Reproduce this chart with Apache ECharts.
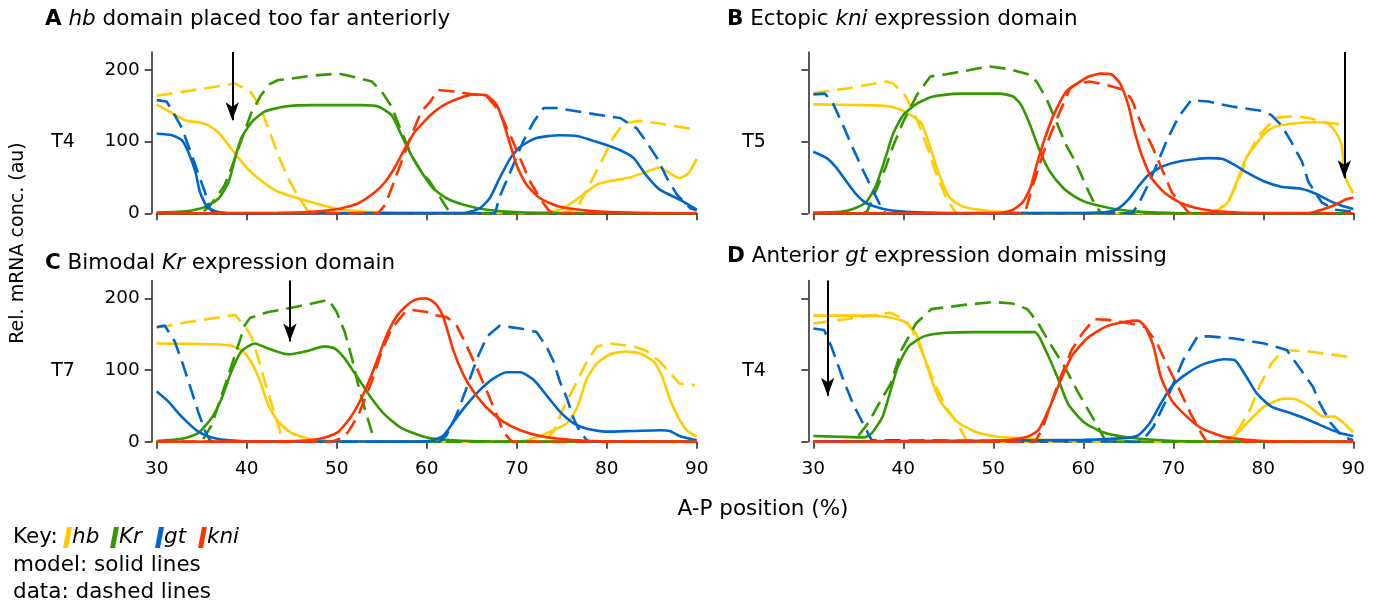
<!DOCTYPE html>
<html>
<head>
<meta charset="utf-8">
<script src="https://cdn.jsdelivr.net/npm/echarts@6/dist/echarts.min.js"></script>
<style>
  html, body { margin: 0; padding: 0; background: #fff; }
  #chart { width: 1381px; height: 603px; }
</style>
</head>
<body>
<div id="chart"></div>
<script>
  // axis ticks
  const xTicks = [30, 40, 50, 60, 70, 80, 90]
  const yTicks = [0, 100, 200]
  const genes = ['hb', 'Kr', 'gt', 'kni']
  const geneColors = ['#ffcc00', '#339900', '#0066cc', '#ff3300']

  // panel A - hb domain placed too far anteriorly (T4)
  const aHbModel = [[30,152],[31.7,140],[33.1,130],[34.6,127],[35.7,123],[36.9,112],[38,95],[39.1,77],[40.6,56],[42,42],[43.5,30],[45.7,21],[48,12.6],[50.2,6],[53.1,2.3],[56.5,1],[60,0.5],[73,0.5],[74.8,5],[76.3,16],[77.8,30],[78.9,40],[80.4,45],[82.6,50],[84.4,58],[85.9,64],[87,56],[88.1,49],[89.1,56],[90,76]]
  const aHbData = [[30,164],[38.7,181],[40.4,170],[41.5,149],[42.6,112],[43.5,81],[44.6,49],[45.6,26],[46.7,5],[47.5,0],[75,0],[76.7,7],[78.1,40],[79.6,77],[80.7,105],[81.9,126],[83.7,129],[85.6,126],[87.8,121],[90,117]]
  const aKrModel = [[30,1],[33.5,3],[35.4,9],[36.9,21],[38,44],[38.7,77],[39.4,105],[40.6,128],[42,142],[44.3,149],[47.2,151],[52.8,151],[54.6,149],[56.1,137],[57.2,109],[58.3,81],[59.4,58],[60.7,35],[62.2,21],[64.1,12],[66.7,5],[70.4,1.5],[75,0.5],[90,0]]
  const aKrData = [[30,0],[35,0],[36,12],[37.5,38],[38.5,70],[39.5,105],[40.5,140],[41.5,163],[42.5,180],[43.5,186],[45,188],[47.2,192],[50.2,195],[51.7,191],[53.9,184],[55,170],[56.1,149],[57.2,114],[58.3,81],[59.4,58],[60.3,45],[61.1,30],[61.9,14],[62.6,0],[90,0]]
  const aGtModel = [[30,111],[31.7,109],[32.8,102],[33.5,86],[34.3,58],[34.8,30],[35.6,9],[36.7,2],[38,0.3],[64,0.3],[64.8,2],[65.9,7],[67,21],[68.1,49],[69.3,77],[70.4,93],[72.2,105],[74.8,109],[76.7,108],[79.3,98],[81.5,88],[83,77],[84.4,53],[85.9,33],[88.1,19],[90,5]]
  const aGtData = [[30,158],[31.1,156],[32,137],[32.8,119],[33.9,81],[34.8,49],[35.4,28],[35.9,7],[36.3,0],[67.6,0],[68.1,23],[69.3,58],[70.7,100],[71.9,128],[73,147],[74.4,147],[77.8,140],[81.5,133],[83.3,119],[84.4,100],[85.6,77],[86.7,49],[87.8,26],[89.3,7],[90,4]]
  const aKniModel = [[30,0],[43.5,0.5],[47.2,2],[50.2,6],[52.4,14],[54.3,30],[55.4,44],[56.5,65],[57.6,91],[58.7,114],[59.5,125],[60.4,137],[61.9,151],[63.7,161],[65.2,166],[66.7,164],[67.8,151],[68.5,128],[69.3,95],[70,67],[71.1,40],[72.6,21],[74.8,9],[77.8,4],[81.5,1.4],[85,0.3],[90,0]]
  const aKniData = [[30,0],[54.6,0],[55.4,12],[56.1,35],[57.2,72],[58.3,109],[59.4,142],[60.4,156],[61.3,172],[63,170],[65.6,165],[66.7,163],[68.1,142],[68.9,119],[69.6,100],[70.7,67],[71.5,44],[72.6,21],[73.5,5],[74,0],[90,0]]

  // panel B - ectopic kni expression domain (T5)
  const bHbModel = [[30,152],[35.9,151],[38.5,149],[40,143],[41.1,135],[42,126],[42.8,100],[43.5,72],[44.3,44],[45.2,21],[46.7,9],[48.5,5],[50.7,2],[55,0.3],[74,0.3],[75,5],[76.1,16],[77.2,49],[78.1,77],[79.1,95],[80.2,112],[81.3,121],[83.1,125],[85.7,127],[87.2,125],[88,114],[88.7,95],[89.1,51],[90,28]]
  const bHbData = [[30,168],[34.1,175],[38.1,184],[38.9,181],[40.2,165],[41.1,142],[41.9,119],[43,81],[43.7,53],[44.8,21],[45.6,5],[46,0],[74,0],[75,5],[76.1,16],[77.2,44],[78.3,81],[79.4,107],[80.6,123],[81.3,133],[83.5,136],[85,133],[86.9,127],[88.6,124]]
  const bKrModel = [[30,1],[33,2],[34.4,6],[35.9,16],[37,40],[38,77],[38.9,112],[40,137],[41.5,153],[43.3,163],[46.3,167],[50.7,167],[52.2,163],[53.1,151],[54.1,123],[55.2,86],[56.3,58],[57.8,35],[59.1,23],[60.2,16],[61.3,12],[63.5,6],[66.5,2],[70,0.5],[90,0]]
  const bKrData = [[30,0],[35.5,0],[36,3],[37,33],[38,63],[38.9,95],[40,128],[41.5,165],[43,191],[44.8,194],[47.8,201],[49.6,205],[51.9,201],[54.1,193],[54.8,184],[55.9,160],[57,128],[58.1,95],[59.2,70],[60.6,30],[61.3,12],[62,0],[90,0]]
  const bGtModel = [[30,86],[31.5,77],[32.6,63],[33.7,44],[34.8,26],[35.9,14],[37.8,6],[40.4,2],[45,0.5],[60,0.5],[62.8,2],[63.9,7],[65,19],[66.1,37],[67.2,53],[68.7,65],[70.9,73],[73.9,77],[75.4,76],[76.9,67],[78.3,56],[80.2,44],[82,37],[84.3,34],[85.7,28],[87.6,16],[89.1,9],[90,6]]
  const bGtData = [[30,166],[31.3,167],[32.2,153],[33.3,123],[34.4,91],[35.6,58],[36.7,30],[37.6,7],[38,0],[65.4,0],[66.1,12],[67.2,40],[68.3,72],[69.4,105],[70.6,135],[72,158],[73.9,156],[76.5,149],[79.8,143],[80.9,137],[82,123],[83.1,100],[84.3,72],[85,44],[86.5,15],[88,5],[90,2]]
  const bKniModel = [[30,0],[50.7,0.3],[52.2,5],[53.3,16],[54.1,35],[54.8,67],[55.6,100],[56.7,137],[58.1,170],[59.3,181],[60.6,191],[62,195],[63.1,194],[64.1,181],[65,151],[65.7,114],[66.5,81],[67.6,49],[69.1,28],[70.9,14],[73.1,6],[75.7,2],[80,0.3],[85,0.3],[86.5,5],[88,12],[89.1,19],[90,22]]
  const bKniData = [[30,0],[53.5,0],[54.3,35],[55.6,86],[57,130],[58.5,174],[59.3,181],[60.7,184],[62.6,179],[64.6,172],[65.4,158],[66.5,123],[67.6,95],[68.7,63],[69.8,30],[71.3,7],[71.8,0],[90,0]]

  // panel C - bimodal Kr expression domain (T7)
  const cHbModel = [[30,137],[36.1,136],[38.3,134],[39.6,126],[40.6,109],[41.5,84],[42.4,51],[43.5,28],[45,12],[46.9,4],[49.1,1],[55,0.3],[69.6,0.3],[71.1,2],[72.6,8],[74.1,16],[75.6,26],[76.7,47],[77.8,88],[78.9,109],[80.4,122],[82.2,126],[83.7,123],[85.2,112],[86.1,93],[87,60],[88,33],[88.9,16],[90,7]]
  const cHbData = [[30,159],[33.5,167],[38.7,177],[40,158],[40.6,144],[41.3,116],[42,84],[42.8,51],[43.5,23],[43.9,5],[44.2,0],[73,0],[74.1,14],[75.2,47],[76.3,74],[77.8,112],[78.9,133],[80.4,137],[83,133],[84.4,127],[85.9,112],[86.9,98],[88.1,81],[89.8,79]]
  const cKrModel = [[30,1],[32.8,4],[34.6,12],[36.1,33],[37.2,60],[38.3,98],[39.4,126],[40.9,137],[42.4,130],[44.6,122],[46.5,126],[48.7,133],[49.8,130],[50.9,116],[52.4,88],[53.9,60],[55.4,37],[57.2,19],[60,6],[63,2],[67,0.5],[90,0]]
  const cKrData = [[30,0],[35,0],[36.1,23],[37.6,79],[38.7,121],[39.8,163],[40.4,173],[42.4,181],[45.4,188],[49.1,198],[50,181],[50.9,153],[51.7,116],[52.4,79],[53.1,47],[54.1,5],[54.3,0],[90,0]]
  const cGtModel = [[30,70],[31.3,56],[32.4,40],[33.5,26],[34.6,14],[36.1,6],[38,2],[42,0.3],[59,0.3],[60.7,2],[61.9,9],[63,28],[64.4,51],[65.9,72],[67.4,88],[68.9,97],[70.4,97],[71.9,86],[73.3,65],[74.8,42],[76.3,26],[77.8,18],[80,14],[83,15],[85.9,16],[87,15],[88.1,8],[90,2]]
  const cGtData = [[30,160],[30.9,162],[32,140],[32.8,112],[33.9,70],[34.6,42],[35.4,14],[35.9,2],[36.2,0],[61.5,0],[62.2,9],[63.3,37],[64.4,74],[65.6,116],[66.7,147],[68.1,162],[70.4,158],[72.2,153],[73.3,133],[74.1,112],[74.8,84],[75.6,60],[76.3,33],[77,14],[77.8,2],[78.2,0],[90,0]]
  const cKniModel = [[30,0],[43.5,0.3],[46.5,1.5],[48.7,6],[50.2,14],[51.7,37],[53.1,70],[54.3,107],[55.4,144],[56.5,172],[57.6,188],[58.7,198],[59.8,200],[60.4,198],[61.1,191],[61.9,172],[63,126],[64.1,93],[65.2,70],[66.7,47],[68.5,28],[70.4,16],[72.6,8],[75.6,3],[78.5,1],[82,0.3],[90,0]]
  const cKniData = [[30,0],[49.4,0],[50.6,5],[51.3,14],[52.4,37],[53.9,84],[55,126],[56.1,158],[57.6,181],[58.3,184],[60,181],[60.7,177],[62.2,174],[63.3,163],[64.4,135],[65.6,102],[66.7,70],[67.8,37],[68.5,14],[69.3,2],[69.6,0],[90,0]]

  // panel D - anterior gt expression domain missing (T4)
  const dHbModel = [[30,176],[35.7,176],[38.1,174],[40.2,167],[41.4,151],[42.3,119],[43.3,81],[44.3,53],[46,28],[48,14],[50.5,7],[53,5],[56.3,2],[60,0.5],[75.2,0.5],[76.8,9],[78.5,30],[80.1,49],[82.2,60],[83.4,60],[85.1,49],[86.7,35],[87.9,35],[89.2,23],[90,13]]
  const dHbData = [[30,165],[33.6,171],[38.6,180],[40.2,170],[41,156],[42.3,119],[43.5,81],[44.7,49],[46,26],[46.8,7],[47.2,0],[76,0],[77.2,16],[78.5,44],[79.7,81],[80.9,109],[82.2,128],[85,126],[87.5,122],[89.5,118]]
  const dKrModel = [[30,8],[32.8,7],[35.7,6],[36.5,12],[37.7,35],[38.6,72],[39.4,105],[40.6,133],[42.3,147],[44.7,152],[48,153],[54.6,153],[55.8,128],[57.1,91],[58.3,53],[60,28],[62,14],[64.5,7],[68.6,2],[72,0.5],[90,0]]
  const dKrData = [[30,0],[34.5,0],[36.1,26],[37.3,53],[38.6,81],[39.8,128],[41.4,165],[43.1,185],[46.8,191],[50.1,195],[52.1,193],[53.8,185],[55,165],[56.3,137],[57.9,105],[59.5,67],[61.2,30],[62,12],[62.5,0],[90,0]]
  const dGtModel = [[30,0.5],[50,1.5],[60,2.5],[64.5,5],[66.1,9],[67.4,26],[68.6,53],[69.8,77],[71.5,95],[73.5,109],[75.6,115],[76.8,114],[78.1,91],[79.3,67],[80.9,49],[83,40],[85.1,30],[87.1,19],[88.8,11],[90,8]]
  const dGtData = [[30,158],[31.2,156],[32,133],[33.2,91],[34.4,53],[35.5,26],[36.5,2],[36.7,0],[66.5,0],[67.8,21],[69.4,63],[71.1,114],[72.7,147],[74,147],[76.8,144],[80.1,137],[82.6,128],[84.2,100],[85.5,77],[86.3,53],[87.5,26],[88.8,7],[90,2]]
  const dKniModel = [[30,0],[50.1,0.3],[52.1,3],[53.8,7],[55,16],[56.3,49],[57.5,86],[58.7,119],[60.4,144],[62.4,160],[64.5,167],[66.1,169],[66.9,160],[67.8,133],[68.6,91],[69.8,58],[71.5,35],[73.1,19],[75.6,7],[78.9,2],[82,0.3],[90,0]]
  const dKniData = [[30,0],[54.6,0],[55.4,16],[56.3,49],[57.5,91],[58.7,128],[60,153],[61.2,171],[62.8,170],[65.3,165],[66.9,160],[68.2,137],[69.4,105],[70.7,72],[71.9,40],[73.1,12],[73.7,0],[90,0]]

  // arrows (x position, value at the tip)
  const arrowX = [38.4, 89, 44.8, 31.6]
  const arrowTip = [130, 49, 140, 64]
  const rowLabels = ['T4', 'T5', 'T7', 'T4']

  const panelSeries = [
    [aHbModel, aHbData, aKrModel, aKrData, aGtModel, aGtData, aKniModel, aKniData],
    [bHbModel, bHbData, bKrModel, bKrData, bGtModel, bGtData, bKniModel, bKniData],
    [cHbModel, cHbData, cKrModel, cKrData, cGtModel, cGtData, cKniModel, cKniData],
    [dHbModel, dHbData, dKrModel, dKrData, dGtModel, dGtData, dKniModel, dKniData]
  ]

  const FONT = 'DejaVu Sans'
  const gridLeft = [156.7, 813.3, 156.7, 813.3]
  const gridTop = [52.1, 52.1, 280.5, 280.5]
  const axisColor = '#222'

  let grids = []
  let xAxes = []
  let yAxes = []
  let series = []
  for (let p = 0; p < 4; p++) {
    grids.push({ left: gridLeft[p], top: gridTop[p], width: 540, height: 161.2 })
    // only bottom row shows x labels, only left column shows y labels
    xAxes.push({
      type: 'value', gridIndex: p, min: 30, max: 90, interval: 10, offset: 5,
      axisLine: { lineStyle: { color: axisColor, width: 1.5 } },
      axisTick: { length: 7, lineStyle: { color: axisColor, width: 1.5 } },
      axisLabel: { show: p >= 2, color: '#000', fontFamily: FONT, fontSize: 18.5, margin: 13 },
      splitLine: { show: false }
    })
    yAxes.push({
      type: 'value', gridIndex: p, min: 0, max: 225, interval: 100, offset: 5,
      axisLine: { show: true, lineStyle: { color: axisColor, width: 1.5 } },
      axisTick: { show: true, length: 7, customValues: yTicks, lineStyle: { color: axisColor, width: 1.5 } },
      axisLabel: {
        show: p % 2 === 0,
        color: '#000', fontFamily: FONT, fontSize: 18.5, margin: 12, customValues: yTicks,
        formatter: v => (v % 100 === 0 ? String(v) : '')
      },
      splitLine: { show: false }
    })
    panelSeries[p].forEach((d, i) => {
      let g = Math.floor(i / 2)
      let isData = i % 2 === 1
      let s = {
        type: 'line', xAxisIndex: p, yAxisIndex: p,
        name: genes[g] + (isData ? ' data' : ' model'),
        data: d, showSymbol: false, symbol: 'none',
        smooth: isData ? false : 0.2,
        lineStyle: { color: geneColors[g], width: 2.6, type: isData ? [16, 8] : 'solid', cap: 'butt' },
        animation: false, silent: true
      }
      if (i === 7) {
        s.markLine = {
          silent: true, animation: false,
          symbol: ['none', 'arrow'], symbolSize: [10, 18],
          label: { show: false },
          lineStyle: { color: '#000', width: 2, type: 'solid' },
          data: [[{ coord: [arrowX[p], 225] }, { coord: [arrowX[p], arrowTip[p]] }]]
        }
      }
      series.push(s)
    })
  }

  const FS = 21.5
  const txt = (x, y, text, extra) => Object.assign({
    type: 'text', x: x, y: y, silent: true,
    style: Object.assign({ text: text, fill: '#000', fontFamily: FONT, fontSize: FS, verticalAlign: 'middle' }, extra || {})
  })
  const rich = {
    b: { fontWeight: 'bold', fontFamily: FONT, fontSize: FS, fill: '#000' },
    i: { fontStyle: 'italic', fontFamily: FONT, fontSize: FS, fill: '#000' },
    n: { fontFamily: FONT, fontSize: FS, fill: '#000' }
  }
  const title = (x, y, text) => txt(x, y, text, { rich: rich })

  let graphics = [
    title(45, 19, '{b|A} {i|hb}{n| domain placed too far anteriorly}'),
    title(727, 19, '{b|B}{n| Ectopic }{i|kni}{n| expression domain}'),
    title(45, 263, '{b|C}{n| Bimodal }{i|Kr}{n| expression domain}'),
    title(727, 256, '{b|D}{n| Anterior }{i|gt}{n| expression domain missing}'),
    txt(63, 142, rowLabels[0], { align: 'center', fontSize: 19 }),
    txt(754, 142, rowLabels[1], { align: 'center', fontSize: 19 }),
    txt(63, 371, rowLabels[2], { align: 'center', fontSize: 19 }),
    txt(754, 371, rowLabels[3], { align: 'center', fontSize: 19 }),
    { type: 'text', x: 18, y: 243, rotation: Math.PI / 2, silent: true,
      style: { text: 'Rel. mRNA conc. (au)', fill: '#000', fontFamily: FONT, fontSize: 19, align: 'center', verticalAlign: 'middle' } },
    txt(763, 509, 'A-P position (%)', { align: 'center' }),
    txt(13, 537, 'Key:'),
    txt(13, 565, 'model: solid lines'),
    txt(13, 592, 'data: dashed lines')
  ]
  // key swatches
  const keyX = [63, 110, 155, 198]
  genes.forEach((g, i) => {
    let x = keyX[i]
    graphics.push({
      type: 'polygon', silent: true,
      shape: { points: [[x + 4, 527], [x + 9, 527], [x + 5, 548], [x, 548]] },
      style: { fill: geneColors[i] }
    })
    graphics.push(txt(x + 9, 537, g, { fontStyle: 'italic' }))
  })

  const chart = echarts.init(document.getElementById('chart'), null, { renderer: 'canvas' })
  chart.setOption({
    animation: false,
    backgroundColor: '#fff',
    grid: grids,
    xAxis: xAxes,
    yAxis: yAxes,
    series: series,
    graphic: graphics
  })
</script>
</body>
</html>
